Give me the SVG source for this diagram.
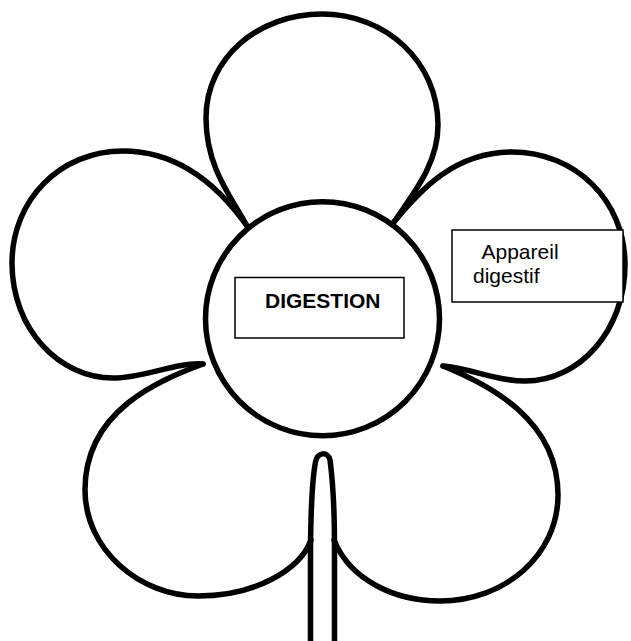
<svg xmlns="http://www.w3.org/2000/svg" width="631" height="641" viewBox="0 0 631 641">
  <style>
    .outline { fill: none; stroke: #000; stroke-width: 5.5; stroke-linecap: round; stroke-linejoin: round; }
    .disc { fill: #fff; stroke: #000; stroke-width: 5.5; }
    .box { fill: #fff; stroke: #000; stroke-width: 1.5; }
    .lbl { font-family: "Liberation Sans", Arial, sans-serif; font-size: 21px; fill: #000; }
    .bold { font-weight: bold; }
  </style>
  <rect width="631" height="641" fill="#fff"/>
  <g id="petal-top">
    <path class="outline" d="M 247,226 C 232,198 206,168 206,118 C 206,58 258,14 322,14 C 386,14 438,62 438,125 C 438,165 412,195 394,222"/>
  </g>
  <g id="petal-left">
    <path class="outline" d="M 247,226 C 225,195 185,151 123,151 C 60,151 12,200 12,263 C 12,330 60,378 113,378 C 145,378 175,362 203,364"/>
  </g>
  <g id="petal-right">
    <path class="outline" d="M 394,222 C 420,190 455,152 512,152 C 575,152 625,200 625,265 C 625,330 580,381 525,381 C 495,381 470,368 443,366"/>
  </g>
  <g id="petal-bottom-left">
    <path class="outline" d="M 203,364 C 160,380 85,410 85,490 C 85,550 140,596 198,596 C 255,596 300,570 311,540"/>
  </g>
  <g id="petal-bottom-right">
    <path class="outline" d="M 443,366 C 490,385 558,420 558,495 C 558,555 505,601 440,601 C 395,601 350,580 334,540"/>
  </g>
  <g id="stem">
    <path class="outline" d="M 310.5,645 L 310.5,545 C 311,505 313,475 315.5,462 C 317,452 328,451 330,460 C 332,475 334.5,505 334.5,545 L 334.5,645"/>
  </g>
  <g id="center">
    <circle class="disc" cx="322.5" cy="318.7" r="117"/>
  </g>
  <g id="label-digestion">
    <rect class="box" x="235" y="277.5" width="169" height="60.5"/>
    <text class="lbl bold" x="265" y="308">DIGESTION</text>
  </g>
  <g id="label-appareil">
    <rect class="box" x="452" y="230" width="171" height="72"/>
    <text class="lbl" x="481.5" y="259">Appareil</text>
    <text class="lbl" x="473" y="283">digestif</text>
  </g>
</svg>
